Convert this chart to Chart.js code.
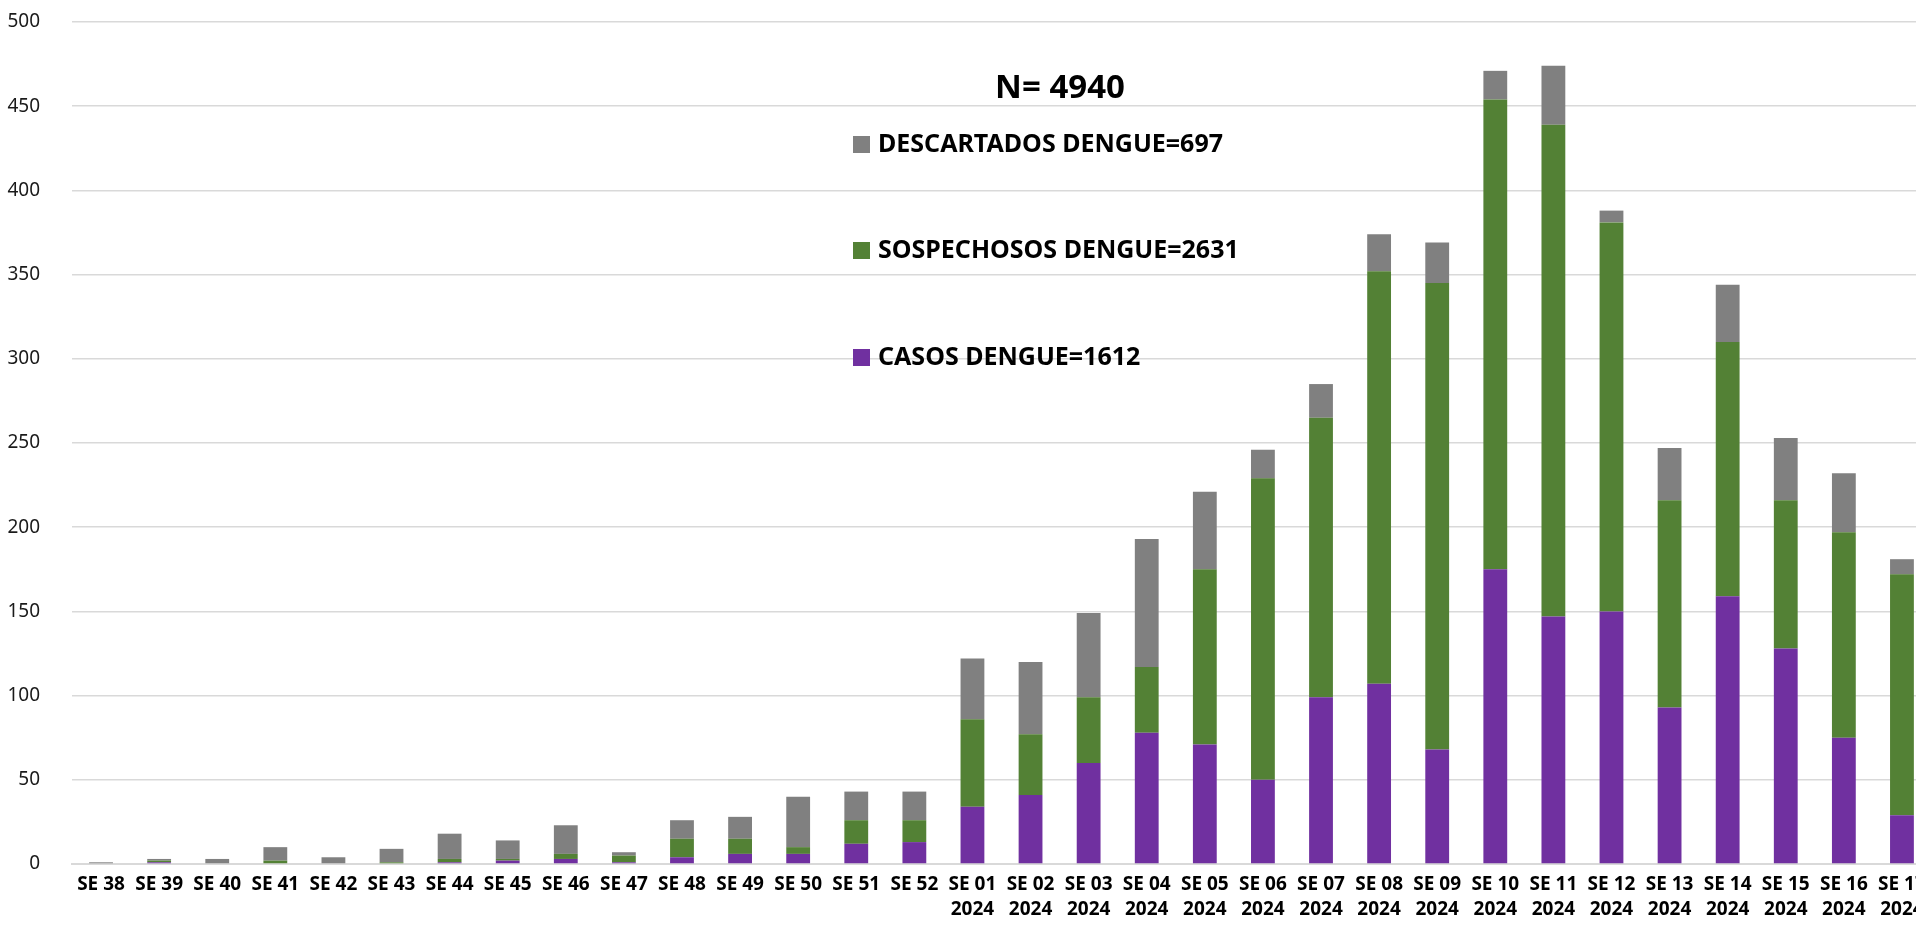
<!DOCTYPE html>
<html>
<head>
<meta charset="utf-8">
<script src="https://cdn.jsdelivr.net/npm/chart.js@4.4.1/dist/chart.umd.min.js"></script>
<style>
    html, body { margin: 0; padding: 0; background: #fff; overflow: hidden; }
    #wrap { position: relative; width: 1936px; height: 927px; }
</style>
</head>
<body>
<div id="wrap"><canvas id="dengueChart"></canvas></div>
<script>
// Semanas epidemiológicas (SE 38 2023 -> SE 17 2024)
const SEMANAS = [
    'SE 38', 'SE 39', 'SE 40', 'SE 41', 'SE 42', 'SE 43', 'SE 44', 'SE 45',
    'SE 46', 'SE 47', 'SE 48', 'SE 49', 'SE 50', 'SE 51', 'SE 52',
    ['SE 01', '2024'], ['SE 02', '2024'], ['SE 03', '2024'], ['SE 04', '2024'],
    ['SE 05', '2024'], ['SE 06', '2024'], ['SE 07', '2024'], ['SE 08', '2024'],
    ['SE 09', '2024'], ['SE 10', '2024'], ['SE 11', '2024'], ['SE 12', '2024'],
    ['SE 13', '2024'], ['SE 14', '2024'], ['SE 15', '2024'], ['SE 16', '2024'],
    ['SE 17', '2024']
];

// casos confirmados (morado)
const CASOS = [
    0, 1, 0, 0, 0, 0, 1, 2, 3, 1, 4, 6, 6, 12, 13,
    34, 41, 60, 78, 71, 50, 99, 107, 68, 175, 147, 150, 93, 159, 128, 75, 29
];

// sospechosos (verde)
const SOSPECHOSOS = [
    0, 1, 0, 2, 0, 1, 2, 1, 3, 4, 11, 9, 4, 14, 13,
    52, 36, 39, 39, 104, 179, 166, 245, 277, 279, 292, 231, 123, 151, 88, 122, 143
];

// descartados (gris)
const DESCARTADOS = [
    1, 1, 3, 8, 4, 8, 15, 11, 17, 2, 11, 13, 30, 17, 17,
    36, 43, 50, 76, 46, 17, 20, 22, 24, 17, 35, 7, 31, 34, 37, 35, 9
];

const ETIQUETAS = ['CASOS DENGUE=1612', 'SOSPECHOSOS DENGUE=2631', 'DESCARTADOS DENGUE=697'];
const TOTAL_TEXTO = 'N= 4940';

const FONT = '"Noto Sans", "Open Sans", sans-serif';

// leyenda estilo Excel dentro del área del gráfico
const leyendaPlugin = {
    id: 'leyendaExcel',
    afterDraw(chart) {
        const ctx = chart.ctx;
        ctx.save();
        ctx.fillStyle = '#000';
        ctx.font = 'bold 33px ' + FONT;
        ctx.textAlign = 'center';
        ctx.textBaseline = 'middle';
        ctx.fillText(TOTAL_TEXTO, 1060, 89);

        const filas = [144, 250, 357];
        const sets = chart.data.datasets.slice().reverse();
        ctx.font = 'bold 25px ' + FONT;
        ctx.textAlign = 'left';
        sets.forEach((ds, i) => {
            ctx.fillStyle = ds.backgroundColor;
            ctx.fillRect(853, filas[i] - 8, 17, 17);
            ctx.fillStyle = '#000';
            ctx.fillText(ds.label, 878, filas[i] + 1);
        });
        ctx.restore();
    }
};

const ctx = document.getElementById('dengueChart').getContext('2d');
new Chart(ctx, {
    type: 'bar',
    data: {
        labels: SEMANAS,
        datasets: [
            { label: ETIQUETAS[0], data: CASOS, backgroundColor: '#7030A0' },
            { label: ETIQUETAS[1], data: SOSPECHOSOS, backgroundColor: '#538135' },
            { label: ETIQUETAS[2], data: DESCARTADOS, backgroundColor: '#808080' }
        ]
    },
    options: {
        responsive: true,
        maintainAspectRatio: false,
        animation: false,
        layout: { padding: { top: 22, right: 5, bottom: 0, left: 0 } },
        datasets: {
            bar: {
                categoryPercentage: 1,
                barPercentage: 0.41,
                borderWidth: 0
            }
        },
        plugins: {
            legend: { display: false },
            tooltip: { enabled: false }
        },
        scales: {
            x: {
                stacked: true,
                grid: { display: false, drawTicks: false },
                border: { display: true, color: '#d9d9d9', width: 2 },
                ticks: {
                    color: '#000',
                    font: { family: FONT, size: 19, weight: 'bold', lineHeight: 1.27 },
                    padding: 9,
                    maxRotation: 0,
                    autoSkip: false
                },
                afterFit: (scale) => { scale.height = 63; }
            },
            y: {
                stacked: true,
                min: 0,
                max: 500,
                grid: {
                    color: '#d9d9d9',
                    lineWidth: 1.5,
                    drawTicks: true,
                    tickLength: 30,
                    tickColor: 'rgba(0,0,0,0)'
                },
                border: { display: false },
                ticks: {
                    stepSize: 50,
                    color: '#1a1a1a',
                    font: { family: FONT, size: 19 },
                    padding: 2
                },
                afterFit: (scale) => { scale.width = 72; }
            }
        }
    },
    plugins: [leyendaPlugin]
});
</script>
</body>
</html>
